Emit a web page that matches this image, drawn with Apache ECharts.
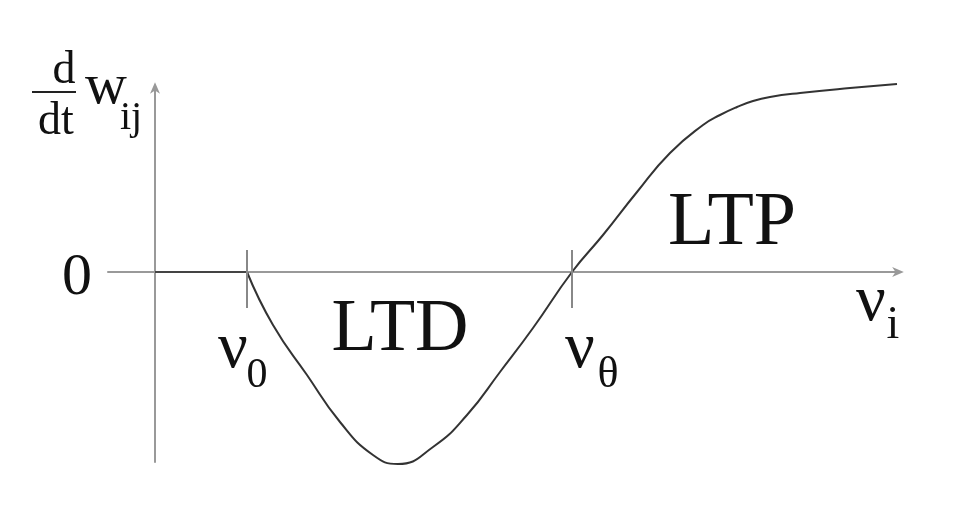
<!DOCTYPE html>
<html>
<head>
<meta charset="utf-8">
<script src="https://cdn.jsdelivr.net/npm/echarts@6/dist/echarts.min.js"></script>
<style>html,body{margin:0;padding:0;background:#fff;}#c{width:954px;height:516px;}</style>
</head>
<body>
<div id="c"></div>
<script>
// Rate of weight change dw_ij/dt vs. postsynaptic activity nu_i (schematic BCM curve)
const flatPart = [[0, 0], [0.92, 0]];
const curve = [
  [0.92, 0], [1.18, -0.53], [1.52, -1.03], [1.85, -1.50], [2.18, -1.83], [2.43, -1.92],
  [2.78, -1.75], [3.12, -1.43], [3.45, -1.00], [3.78, -0.56], [4.17, 0], [4.48, 0.37],
  [4.82, 0.80], [5.15, 1.19], [5.48, 1.47], [5.65, 1.57], [5.82, 1.65], [5.98, 1.71],
  [6.15, 1.75], [6.45, 1.79], [6.95, 1.84], [7.42, 1.88]
];
const nu0 = 0.92;
const nuTheta = 4.17;
const tickTop = 0.22, tickBottom = -0.36;

const serif = '"Liberation Serif", "DejaVu Serif", serif';
const chart = echarts.init(document.getElementById('c'));
const arrowPath = 'path://M0,0 L6,14 L0,10 L-6,14 Z';

function txt(text, x, y, size) {
  return { type: 'text', x: x, y: y, style: { text: text, font: size + 'px ' + serif, fill: '#111', align: 'center', verticalAlign: 'middle' } };
}

chart.setOption({
  animation: false,
  backgroundColor: '#fff',
  grid: { left: 108, right: 56, top: 88, bottom: 54 },
  xAxis: {
    type: 'value', min: -0.47, max: 7.43,
    axisLine: { show: true, onZero: true, symbol: ['none', arrowPath], symbolSize: [10, 14], lineStyle: { color: '#999', width: 2 } },
    axisTick: { show: false }, axisLabel: { show: false }, splitLine: { show: false }
  },
  yAxis: {
    type: 'value', min: -1.90, max: 1.84,
    axisLine: { show: true, onZero: true, symbol: ['none', arrowPath], symbolSize: [10, 14], lineStyle: { color: '#999', width: 2 } },
    axisTick: { show: false }, axisLabel: { show: false }, splitLine: { show: false }
  },
  series: [
    {
      type: 'line', data: flatPart, symbol: 'none', clip: false,
      lineStyle: { color: '#444', width: 2 },
      markLine: {
        silent: true, symbol: 'none', label: { show: false },
        lineStyle: { color: '#888', width: 2, type: 'solid' },
        data: [
          [{ coord: [nu0, tickTop] }, { coord: [nu0, tickBottom] }],
          [{ coord: [nuTheta, tickTop] }, { coord: [nuTheta, tickBottom] }]
        ]
      }
    },
    {
      type: 'line', data: curve, symbol: 'none', clip: false, smooth: 0.5,
      lineStyle: { color: '#333', width: 2 }
    }
  ],
  graphic: [
    txt('LTD', 400, 331, 74),
    txt('LTP', 732, 224, 76),
    txt('0', 77, 278, 60),
    txt('ν', 233, 350, 66),
    txt('0', 257, 376, 42),
    txt('ν', 580, 350, 66),
    txt('θ', 608, 375, 44),
    txt('ν', 871, 303, 66),
    txt('i', 893, 326, 46),
    txt('d', 64, 71, 46),
    { type: 'line', shape: { x1: 32, y1: 92, x2: 76, y2: 92 }, style: { stroke: '#222', lineWidth: 2 } },
    txt('dt', 56, 122, 46),
    txt('w', 106, 88, 58),
    txt('ij', 131, 118, 40)
  ]
});
</script>
</body>
</html>
